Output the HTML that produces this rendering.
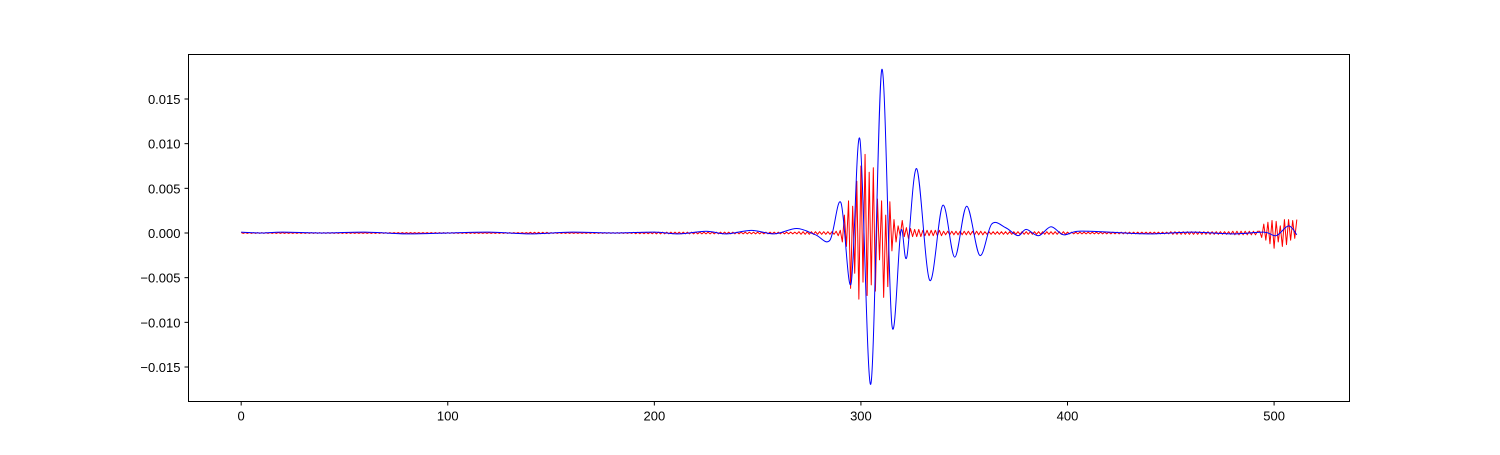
<!DOCTYPE html>
<html><head><meta charset="utf-8"><style>
html,body{margin:0;padding:0;background:#fff;}
svg text{font-family:"Liberation Sans","DejaVu Sans",sans-serif;font-size:13px;fill:#000;}
</style></head><body>
<svg id="chart" width="1500" height="450" xmlns="http://www.w3.org/2000/svg">
<rect x="0" y="0" width="1500" height="450" fill="#fff"/>
<g id="plot"></g>
<rect x="188.5" y="54.5" width="1161" height="347" fill="none" stroke="#000" stroke-width="1"/>
<g id="axes"></g>
</svg>
<script>
// ---- data ----
const xTicks = [0,100,200,300,400,500];
const yTicks = [-0.015,-0.010,-0.005,0.000,0.005,0.010,0.015];
const yTickLabels = ["−0.015","−0.010","−0.005","0.000","0.005","0.010","0.015"];
// blue series: key samples [index, value]
const blueIdx = [0,10,20,40,60,80,100,120,140,160,180,200,212,225,235,247,258,269,278,285,290.3,295.2,299.5,304.8,310.1,315,319.3,322.2,327,333.3,339.6,345.4,351.2,357.5,363.3,370,376,380,386,392,398,405,420,440,460,480,495,501,507,511];
const blueVal = [0.0001,0,0.0001,0,0.0001,-0.0001,0,0.0001,-0.0001,0.0001,0,0.0001,-0.0001,0.0002,-0.0001,0.0003,-0.0001,0.0005,-0.0002,-0.0008,0.0034,-0.0057,0.0105,-0.0169,0.0183,-0.0103,0.0002,-0.0027,0.0072,-0.0053,0.0031,-0.0027,0.0030,-0.0025,0.0010,0.0006,-0.0003,0.0004,-0.0003,0.0007,-0.0002,0.0002,0.0001,-0.0001,0.0001,-0.0001,0.0001,-0.0003,0.0008,-0.0002];
// red series: baseline amplitude per 10-sample block (alternating sign), plus burst values
const redBaseAmp = [0.00005,0.00005,0.00005,0.00005,0.00005,0.00005,0.00005,0.00005,0.00005,0.00005,0.00005,0.00005,0.00005,0.00005,0.00008,0.00005,0.00005,0.00005,0.00005,0.00008,0.0001,0.0001,0.0001,0.0001,0.0001,0.0001,0.0001,0.00015,0.00015,0.0002,0.0002,0.0003,0.0004,0.0003,0.0002,0.0002,0.00015,0.00015,0.00015,0.00015,0.0001,0.0001,0.0001,0.0001,0.0001,0.00015,0.00015,0.00015,0.0002,0.0002,0.0003,0.0003];
const redBurstStart = 288;
const redBurst = [0.0002,-0.0003,0.0003,-0.0010,0.0020,-0.0015,0.0036,-0.0062,0.0030,-0.0045,0.0058,-0.0074,0.0075,-0.0055,0.0088,-0.0070,0.0068,-0.0058,0.0073,-0.0065,0.0038,-0.0030,0.0036,-0.0072,0.0020,-0.0060,0.0035,-0.0020,0.0015,-0.0010,0.0008,-0.0003,0.0014,-0.0004,0.0006,-0.0006,0.0005,-0.0004];
const redEndStart = 493;
const redEnd = [0.0002,-0.0005,0.0010,-0.0008,0.0012,-0.0012,0.0014,-0.0017,0.0013,-0.0010,0.0008,-0.0015,0.0015,-0.0013,0.0015,-0.0008,0.0014,-0.0006,0.0015];

// ---- axis functions ----
const X0=188.5, X1=1349.5, Y0=54.5, Y1=401.5;
const xMin=-25.5, xMax=536.5, yMin=-0.01886, yMax=0.01998;
const xs = v => X0 + (v-xMin)/(xMax-xMin)*(X1-X0);
const ys = v => Y1 - (v-yMin)/(yMax-yMin)*(Y1-Y0);
const NS="http://www.w3.org/2000/svg";
const plot=document.getElementById('plot'), axes=document.getElementById('axes');
function mk(tag, attrs, parent){const e=document.createElementNS(NS,tag);for(const k in attrs)e.setAttribute(k,attrs[k]);parent.appendChild(e);return e;}

// red series
const red=[];
for(let i=0;i<512;i++){
  let v;
  if(i>=redBurstStart && i<redBurstStart+redBurst.length) v=redBurst[i-redBurstStart];
  else if(i>=redEndStart && i<redEndStart+redEnd.length) v=redEnd[i-redEndStart];
  else v=redBaseAmp[Math.floor(i/10)]*(i%2?-1:1);
  red.push(v);
}
let dR=red.map((v,i)=>(i?'L':'M')+xs(i).toFixed(2)+','+ys(v).toFixed(2)).join('');
const redPath=mk('path',{d:dR,fill:'none',stroke:'#ff0000','stroke-width':1,'stroke-linejoin':'round'},plot);



// blue series: smooth Catmull-Rom through key samples
const P=blueIdx.map((x,i)=>[xs(x),ys(blueVal[i])]);
let dB='M'+P[0][0].toFixed(2)+','+P[0][1].toFixed(2);
for(let i=0;i<P.length-1;i++){
  const p0=P[Math.max(0,i-1)],p1=P[i],p2=P[i+1],p3=P[Math.min(P.length-1,i+2)];
  const c1=[p1[0]+(p2[0]-p0[0])/6,p1[1]+(p2[1]-p0[1])/6];
  const c2=[p2[0]-(p3[0]-p1[0])/6,p2[1]-(p3[1]-p1[1])/6];
  dB+='C'+c1[0].toFixed(2)+','+c1[1].toFixed(2)+' '+c2[0].toFixed(2)+','+c2[1].toFixed(2)+' '+p2[0].toFixed(2)+','+p2[1].toFixed(2);
}
const bluePath=mk('path',{d:dB,fill:'none',stroke:'#0000ff','stroke-width':1,'stroke-linejoin':'round'},plot);



// ticks
xTicks.forEach(t=>{
  const x=xs(t);
  const l=mk('line',{x1:x,y1:Y1,x2:x,y2:Y1+4,stroke:'#000','stroke-width':1},axes);
  
  
  const tx=mk('text',{x:x,y:Y1+19,'text-anchor':'middle'},axes);
  tx.textContent=t;
  
  
});
yTicks.forEach((t,i)=>{
  const y=ys(t);
  const l=mk('line',{x1:X0-4,y1:y,x2:X0,y2:y,stroke:'#000','stroke-width':1},axes);
  
  
  const tx=mk('text',{x:X0-8,y:y+5,'text-anchor':'end'},axes);
  tx.textContent=yTickLabels[i];
  
  
});
</script>
</body></html>
